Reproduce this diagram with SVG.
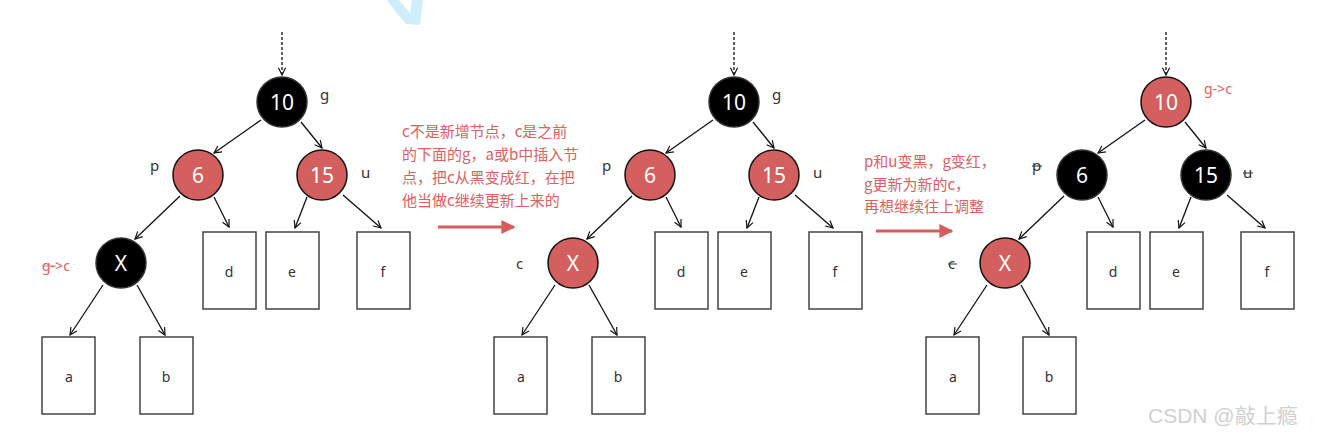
<svg xmlns="http://www.w3.org/2000/svg" width="1324" height="439" viewBox="0 0 1324 439">
<defs>
<marker id="ah" viewBox="0 0 10 10" refX="9" refY="5" markerWidth="9" markerHeight="9" markerUnits="userSpaceOnUse" orient="auto">
<path d="M1,1 L9,5 L1,9" fill="none" stroke="#111" stroke-width="1.3"/>
</marker>
<marker id="rh" viewBox="0 0 10 10" refX="9" refY="5" markerWidth="14" markerHeight="14" markerUnits="userSpaceOnUse" orient="auto">
<path d="M0,0 L10,5 L0,10 Z" fill="#d75d5d"/>
</marker>
</defs>
<style>
.blk{fill:#000;stroke:#333;stroke-width:1.5}
.red{fill:#d35f5f;stroke:#111;stroke-width:1.5}
.num{fill:#fff;font-family:"Noto Sans","Liberation Sans",sans-serif;font-size:21px;text-anchor:middle}
.box{fill:#fff;stroke:#444;stroke-width:1.5}
.bl{fill:#333;font-family:"Noto Sans","Liberation Sans",sans-serif;font-size:14px;text-anchor:middle}
.lab{fill:#333;font-family:"Noto Sans","Liberation Sans",sans-serif;font-size:15px}
.rl{fill:#e06060;font-family:"Noto Sans","Liberation Sans",sans-serif;font-size:14px}
.note{fill:#e06060;font-family:"Noto Sans CJK SC","Noto Sans",sans-serif;font-size:15px}
.e{stroke:#111;stroke-width:1.3;fill:none;marker-end:url(#ah)}
.d{stroke:#111;stroke-width:1.3;fill:none;stroke-dasharray:3,2;marker-end:url(#ah)}
.strike{stroke:#333;stroke-width:1}
</style>
<rect width="1324" height="439" fill="#fff"/>
<polygon points="387,0 399,0 410,13 412,0 423,0 420,25 406,24 396,12" fill="#cdeefa"/>

<g id="connectors">
<!-- tree 1 -->
<line class="d" x1="282" y1="32" x2="282" y2="75"/>
<line class="e" x1="261" y1="120" x2="214" y2="153"/>
<line class="e" x1="301" y1="122" x2="322" y2="148"/>
<line class="e" x1="180" y1="196" x2="135" y2="239"/>
<line class="e" x1="214" y1="197" x2="229" y2="227"/>
<line class="e" x1="307" y1="197" x2="295" y2="228"/>
<line class="e" x1="343" y1="195" x2="381" y2="228"/>
<line class="e" x1="103" y1="285" x2="70" y2="335"/>
<line class="e" x1="137" y1="285" x2="165" y2="335"/>
<!-- tree 2 -->
<line class="d" x1="734" y1="32" x2="734" y2="75"/>
<line class="e" x1="713" y1="120" x2="666" y2="153"/>
<line class="e" x1="753" y1="122" x2="774" y2="148"/>
<line class="e" x1="632" y1="196" x2="587" y2="239"/>
<line class="e" x1="666" y1="197" x2="681" y2="227"/>
<line class="e" x1="759" y1="197" x2="747" y2="228"/>
<line class="e" x1="795" y1="195" x2="833" y2="228"/>
<line class="e" x1="555" y1="285" x2="522" y2="335"/>
<line class="e" x1="589" y1="285" x2="617" y2="335"/>
<!-- tree 3 -->
<line class="d" x1="1166" y1="32" x2="1166" y2="75"/>
<line class="e" x1="1145" y1="120" x2="1098" y2="153"/>
<line class="e" x1="1185" y1="122" x2="1206" y2="148"/>
<line class="e" x1="1064" y1="196" x2="1019" y2="239"/>
<line class="e" x1="1098" y1="197" x2="1113" y2="227"/>
<line class="e" x1="1191" y1="197" x2="1179" y2="228"/>
<line class="e" x1="1227" y1="195" x2="1265" y2="228"/>
<line class="e" x1="987" y1="285" x2="954" y2="335"/>
<line class="e" x1="1021" y1="285" x2="1049" y2="335"/>
<!-- red arrows -->
<line x1="438" y1="227" x2="514" y2="227" stroke="#d75d5d" stroke-width="3" marker-end="url(#rh)"/>
<line x1="876" y1="231" x2="952" y2="231" stroke="#d75d5d" stroke-width="3" marker-end="url(#rh)"/>
</g>

<!-- Tree 1 -->
<g id="t1-n10"><circle class="blk" cx="282" cy="102" r="25"/><text class="num" x="282" y="110">10</text><text class="lab" x="320" y="100">g</text></g>
<g id="t1-n6"><circle class="red" cx="198" cy="175" r="25"/><text class="num" x="198" y="183">6</text><text class="lab" x="150" y="171">p</text></g>
<g id="t1-n15"><circle class="red" cx="322" cy="175" r="25"/><text class="num" x="322" y="183">15</text><text class="lab" x="361" y="178">u</text></g>
<g id="t1-x"><circle class="blk" cx="121" cy="263" r="25"/><text class="num" x="121" y="271">X</text><text class="rl" x="42" y="271">g-&gt;c</text><line x1="42" y1="266" x2="56" y2="266" stroke="#e06060" stroke-width="0.8"/></g>
<g id="t1-d"><rect class="box" x="203" y="232" width="53" height="77"/><text class="bl" x="229" y="277">d</text></g>
<g id="t1-e"><rect class="box" x="266" y="232" width="53" height="77"/><text class="bl" x="292" y="277">e</text></g>
<g id="t1-f"><rect class="box" x="357" y="232" width="53" height="77"/><text class="bl" x="383" y="277">f</text></g>
<g id="t1-a"><rect class="box" x="42" y="337" width="53" height="77"/><text class="bl" x="69" y="382">a</text></g>
<g id="t1-b"><rect class="box" x="140" y="337" width="53" height="77"/><text class="bl" x="166" y="382">b</text></g>

<g id="note1">
<text class="note" x="402" y="137">c不是新增节点，c是之前</text>
<text class="note" x="402" y="160">的下面的g，a或b中插入节</text>
<text class="note" x="402" y="183">点，把c从黑变成红，在把</text>
<text class="note" x="402" y="206">他当做c继续更新上来的</text>
</g>

<!-- Tree 2 -->
<g id="t2-n10"><circle class="blk" cx="734" cy="102" r="25"/><text class="num" x="734" y="110">10</text><text class="lab" x="772" y="100">g</text></g>
<g id="t2-n6"><circle class="red" cx="650" cy="175" r="25"/><text class="num" x="650" y="183">6</text><text class="lab" x="602" y="171">p</text></g>
<g id="t2-n15"><circle class="red" cx="774" cy="175" r="25"/><text class="num" x="774" y="183">15</text><text class="lab" x="813" y="178">u</text></g>
<g id="t2-x"><circle class="red" cx="573" cy="263" r="25"/><text class="num" x="573" y="271">X</text><text class="lab" x="516" y="269">c</text></g>
<g id="t2-d"><rect class="box" x="655" y="232" width="53" height="77"/><text class="bl" x="681" y="277">d</text></g>
<g id="t2-e"><rect class="box" x="718" y="232" width="53" height="77"/><text class="bl" x="744" y="277">e</text></g>
<g id="t2-f"><rect class="box" x="809" y="232" width="53" height="77"/><text class="bl" x="835" y="277">f</text></g>
<g id="t2-a"><rect class="box" x="494" y="337" width="53" height="77"/><text class="bl" x="521" y="382">a</text></g>
<g id="t2-b"><rect class="box" x="592" y="337" width="53" height="77"/><text class="bl" x="618" y="382">b</text></g>

<g id="note2">
<text class="note" x="864" y="167">p和u变黑，g变红，</text>
<text class="note" x="864" y="190">g更新为新的c，</text>
<text class="note" x="864" y="212">再想继续往上调整</text>
</g>

<!-- Tree 3 -->
<g id="t3-n10"><circle class="red" cx="1166" cy="102" r="25"/><text class="num" x="1166" y="110">10</text><text class="rl" x="1204" y="94">g-&gt;c</text></g>
<g id="t3-n6"><circle class="blk" cx="1082" cy="175" r="25"/><text class="num" x="1082" y="183">6</text><text class="lab" x="1032" y="171">p</text><line class="strike" x1="1032" y1="166" x2="1042" y2="166"/></g>
<g id="t3-n15"><circle class="blk" cx="1206" cy="175" r="25"/><text class="num" x="1206" y="183">15</text><text class="lab" x="1243" y="178">u</text><line class="strike" x1="1243" y1="173" x2="1253" y2="173"/></g>
<g id="t3-x"><circle class="red" cx="1005" cy="263" r="25"/><text class="num" x="1005" y="271">X</text><text class="lab" x="948" y="269">c</text><line class="strike" x1="948" y1="264" x2="957" y2="264"/></g>
<g id="t3-d"><rect class="box" x="1087" y="232" width="53" height="77"/><text class="bl" x="1113" y="277">d</text></g>
<g id="t3-e"><rect class="box" x="1150" y="232" width="53" height="77"/><text class="bl" x="1176" y="277">e</text></g>
<g id="t3-f"><rect class="box" x="1241" y="232" width="53" height="77"/><text class="bl" x="1267" y="277">f</text></g>
<g id="t3-a"><rect class="box" x="926" y="337" width="53" height="77"/><text class="bl" x="953" y="382">a</text></g>
<g id="t3-b"><rect class="box" x="1023" y="337" width="53" height="77"/><text class="bl" x="1049" y="382">b</text></g>

<text x="1148" y="423" fill="#d0d0d0" font-family="'Liberation Sans','Noto Sans CJK SC',sans-serif" font-size="21">CSDN @敲上瘾</text>
</svg>
